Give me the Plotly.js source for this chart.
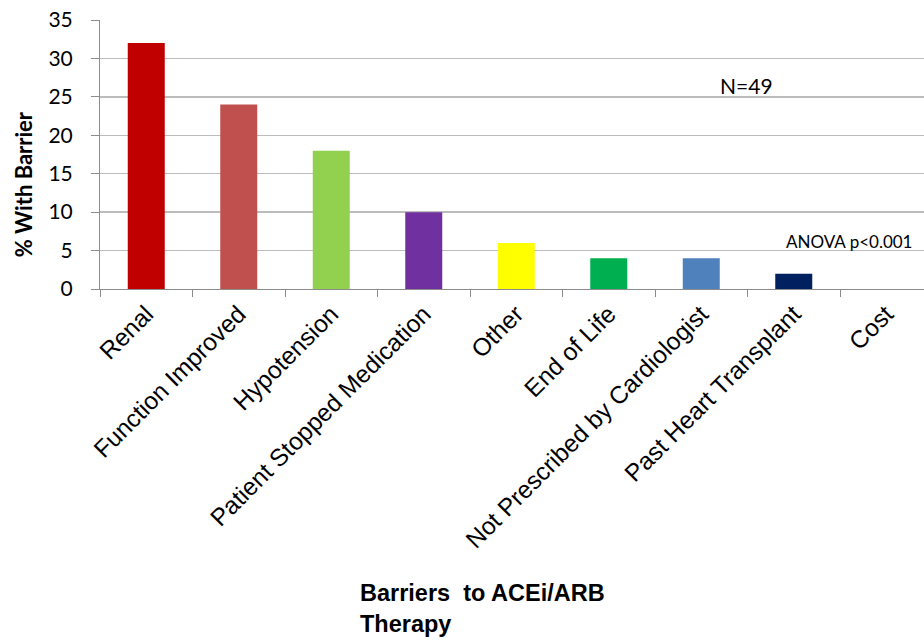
<!DOCTYPE html>
<html>
<head>
<meta charset="utf-8">
<script src="https://cdn.plot.ly/plotly-3.0.1.min.js"></script>
<style>html,body{margin:0;padding:0;background:#fff;}#chart{width:924px;height:640px;}</style>
</head>
<body>
<div id="chart"></div>
<script>
const categories = ["Renal", "Function Improved", "Hypotension", "Patient Stopped Medication", "Other", "End of Life", "Not Prescribed by Cardiologist", "Past Heart Transplant", "Cost"];
const values = [32, 24, 18, 10, 6, 4, 4, 2, 0];
const barColors = ["#C00000", "#C0504D", "#92D050", "#7030A0", "#FFFF00", "#00B050", "#4F81BD", "#002060", "#A6A6A6"];
const yTicks = [0, 5, 10, 15, 20, 25, 30, 35];

const trace = {
  type: "bar",
  x: categories,
  y: values,
  width: 0.4,
  marker: { color: barColors, line: { width: 0 } },
  hoverinfo: "x+y"
};

const layout = {
  width: 924, height: 640,
  margin: { l: 100, r: 0, t: 20, b: 351 },
  paper_bgcolor: "#fff", plot_bgcolor: "#fff",
  showlegend: false,
  bargap: 0.6,
  xaxis: {
    type: "category",
    range: [-0.5, 8.408],
    showline: true, linecolor: "#8c8c8c", linewidth: 1,
    ticks: "outside", tickson: "boundaries", ticklen: 7, tickcolor: "#8c8c8c",
    tickangle: -45,
    tickfont: { family: "Liberation Sans, Arial, sans-serif", size: 24.5, color: "#000" },
    showgrid: false, zeroline: false
  },
  yaxis: {
    range: [0, 35],
    tickvals: yTicks,
    ticklabelstandoff: 14,
    showline: true, linecolor: "#8c8c8c", linewidth: 1,
    ticks: "outside", ticklen: 8, tickcolor: "#8c8c8c",
    tickfont: { family: "Lato, Calibri, sans-serif", size: 21, color: "#000" },
    showgrid: true, gridcolor: "#bcbcbc", gridwidth: 1.5,
    zeroline: false
  },
  annotations: [
    { text: "<b>% With Barrier</b>", textangle: -90, xref: "paper", yref: "paper",
      x: -0.0934, y: 0.39, xanchor: "center", yanchor: "middle", showarrow: false,
      font: { family: "Lato, Calibri, sans-serif", size: 22, color: "#000" } },
    { text: "<b>Barriers  to ACEi/ARB<br>Therapy</b>", xref: "paper", yref: "paper",
      x: 0.3125, y: -1.074, xanchor: "left", yanchor: "top", align: "left", showarrow: false,
      font: { family: "Liberation Sans, Arial, sans-serif", size: 23.5, color: "#000" } },
    { text: "N=49", xref: "paper", yref: "paper", x: 0.785, y: 0.758,
      xanchor: "center", yanchor: "middle", showarrow: false,
      font: { family: "Lato, Calibri, sans-serif", size: 21, color: "#000" } },
    { text: "ANOVA p<0.001", xref: "paper", yref: "paper", x: 0.909, y: 0.175,
      xanchor: "center", yanchor: "middle", showarrow: false,
      font: { family: "Lato, Calibri, sans-serif", size: 17, color: "#000" } }
  ]
};

Plotly.newPlot("chart", [trace], layout, { displayModeBar: false, staticPlot: true });
</script>
</body>
</html>
